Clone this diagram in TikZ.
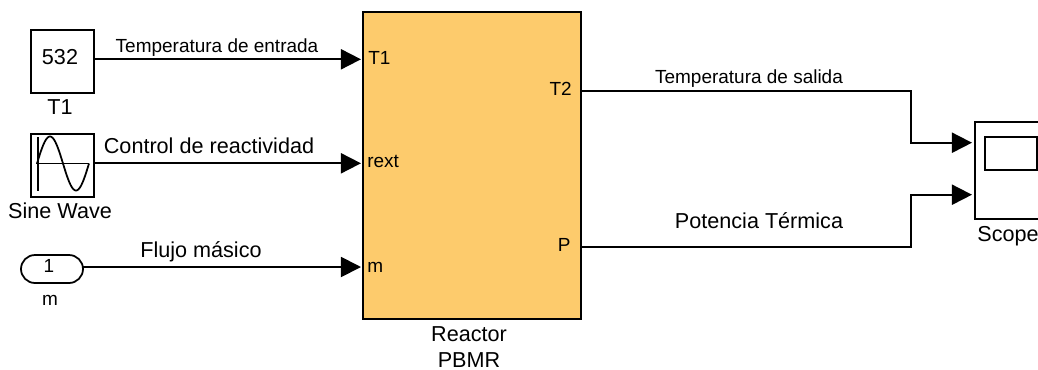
\documentclass[tikz,border=0pt]{standalone}
\usepackage{fontspec}
\setmainfont{Liberation Sans}
\usetikzlibrary{arrows.meta,shapes.misc}
\tikzset{
	blockbox/.style={draw,line width=1pt,fill=white,inner sep=0pt,outer sep=0pt},
	sig/.style={line width=1.05pt,-{Triangle[length=11.4pt,width=11.4pt]}},
	big/.style={inner sep=0pt,anchor=base,font=\fontsize{12.3}{14}\selectfont},
	small/.style={inner sep=0pt,anchor=base,font=\fontsize{10.8}{13}\selectfont},
}
\begin{document}
\begin{tikzpicture}[x=0.02cm,y=-0.02cm]
		\useasboundingbox (0,0) rectangle (1038,369);
		\node [blockbox,minimum width=1.26cm,minimum height=1.26cm] (const) at (62.5,61.5) {};
		\node [blockbox,minimum width=1.26cm,minimum height=1.26cm] (sine) at (62.5,165.5) {};
		\node [blockbox,rounded rectangle,minimum width=1.24cm,minimum height=0.56cm] (inport) at (52,269) {};
		\node [blockbox,line width=1.1pt,fill={rgb,255:red,253;green,203;blue,108},minimum width=4.36cm,minimum height=6.14cm] (reactor) at (472,165.5) {};
		\node [blockbox,minimum width=1.6cm,minimum height=1.94cm] (scope) at (1015,170.5) {};
		\node [blockbox,minimum width=1.04cm,minimum height=0.67cm] (screen) at (1011,153.5) {};
		% sine wave icon
		\draw [line width=1pt] (37.7,137) -- (37.7,191);
		\draw [line width=0.9pt] (36,163.5) -- (89,163.5);
		\draw [line width=1pt] plot [domain=0:52,samples=60,smooth] ({37+\x},{163.5-27*sin(360/52*\x)});
		% block texts
		\node [big] (constval) at (60,64) {532};
		\node [big] (constname) at (60,114) {T1};
		\node [big] (sinename) at (60,218) {Sine Wave};
		\node [small] (inportval) at (49,272) {1};
		\node [small] (inportname) at (50,305) {m};
		\node [big] (reactorname) at (469,341) {Reactor};
		\node [big] (reactorsub) at (469,367) {PBMR};
		\node [big,anchor=base west] (scopename) at (977,241) {Scope};
		% ports
		\node [small,anchor=base west] (pT1) at (368,64) {T1};
		\node [small,anchor=base west] (prext) at (367,167) {rext};
		\node [small,anchor=base west] (pm) at (367,272) {m};
		\node [small,anchor=base east] (pT2) at (572,95) {T2};
		\node [small,anchor=base east] (pP) at (571,251) {P};
		% arrow ends
		\coordinate (inT1) at (361,59.3);
		\coordinate (inrext) at (361,163.3);
		\coordinate (inm) at (361,267);
		\coordinate (outT2) at (581,90.7);
		\coordinate (outP) at (581,246.7);
		\coordinate (inA) at (972,142.7);
		\coordinate (inB) at (972,194.7);
		\coordinate (bendT2) at (911,90.7);
		\coordinate (bendA) at (911,142.7);
		\coordinate (bendP) at (911,246.7);
		\coordinate (bendB) at (911,194.7);
		\draw [sig] (const.east |- inT1) -- (inT1);
		\draw [sig] (sine.east |- inrext) -- (inrext);
		\draw [sig] (inport.east |- inm) -- (inm);
		\draw [sig] (outT2) -- (bendT2) -- (bendA) -- (inA);
		\draw [sig] (outP) -- (bendP) -- (bendB) -- (inB);
		% signal names
		\node [small] (lblTin) at (217,52) {Temperatura de entrada};
		\node [big] (lblrext) at (209,153) {Control de reactividad};
		\node [big] (lblm) at (201,257) {Flujo másico};
		\node [small] (lblTout) at (749,83) {Temperatura de salida};
		\node [big] (lblP) at (759,228) {Potencia Térmica};
	\end{tikzpicture}
\end{document}
